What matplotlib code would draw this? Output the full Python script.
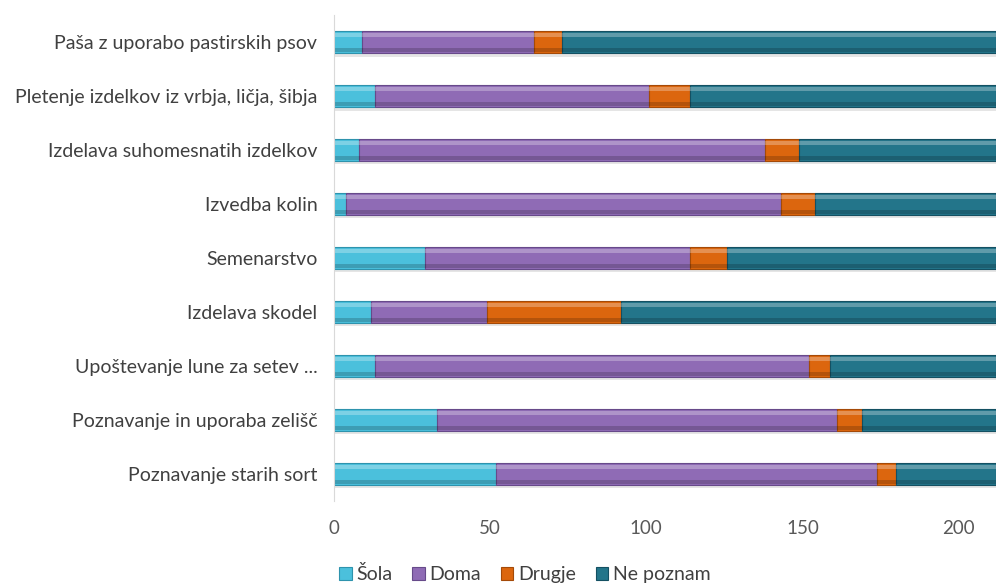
import matplotlib.pyplot as plt
import numpy as np

plt.rcParams['font.family'] = ['Lato', 'DejaVu Sans']

# data (bottom to top)
categories = [
    'Poznavanje starih sort',
    'Poznavanje in uporaba zelišč',
    'Upoštevanje lune za setev ...',
    'Izdelava skodel',
    'Semenarstvo',
    'Izvedba kolin',
    'Izdelava suhomesnatih izdelkov',
    'Pletenje izdelkov iz vrbja, ličja, šibja',
    'Paša z uporabo pastirskih psov',
]
sola = [52, 33, 13, 12, 29, 4, 8, 13, 9]
doma = [122, 128, 139, 37, 85, 139, 130, 88, 55]
drugje = [6, 8, 7, 43, 12, 11, 11, 13, 9]
ne_poznam = [32, 43, 53, 120, 86, 58, 63, 98, 139]

series = [('Šola', sola, '#4bc0dc', '#2e93ad'),
          ('Doma', doma, '#8f6bb5', '#674a8a'),
          ('Drugje', drugje, '#dc660e', '#a44a08'),
          ('Ne poznam', ne_poznam, '#23758a', '#145062')]

fig = plt.figure(figsize=(9.96, 5.86), dpi=100)
ax = fig.add_axes([0.3353, 0.145, 0.6647, 0.829])

y = np.arange(len(categories))
h = 0.41

# soft shadow under each bar
totals = np.array(sola) + np.array(doma) + np.array(drugje) + np.array(ne_poznam)
ax.barh(y - 0.06, totals, height=h, color='#9a9a9a', alpha=0.25, linewidth=0)

left = np.zeros(len(categories))
for name, vals, col, dark in series:
    vals = np.array(vals)
    ax.barh(y, vals, left=left, height=h, color=col, edgecolor=dark,
            linewidth=0.8, label=name)
    # bevel: light band on top, dark band at the bottom
    ax.barh(y + h * 0.33, vals, left=left, height=h * 0.2, color='white',
            alpha=0.28, linewidth=0)
    ax.barh(y - h * 0.36, vals, left=left, height=h * 0.16, color='black',
            alpha=0.18, linewidth=0)
    left += vals

ax.set_xlim(0, left.max())
ax.set_ylim(-0.5, len(categories) - 0.5)
ax.set_yticks(y)
ax.set_yticklabels(categories, fontsize=14, color='#404040')
ax.set_xticks([0, 50, 100, 150, 200])
ax.tick_params(axis='x', labelsize=13.5, colors='#595959', length=0, pad=14)
ax.tick_params(axis='y', length=0, pad=12)
for s in ['top', 'right', 'bottom']:
    ax.spines[s].set_visible(False)
ax.spines['left'].set_color('#d9d9d9')

handles, labels = ax.get_legend_handles_labels()
fig.legend(handles, labels, loc='lower center', ncol=4, frameon=False,
           bbox_to_anchor=(0.527, -0.025), fontsize=14, handlelength=0.65,
           handleheight=0.65, handletextpad=0.25, columnspacing=1.0,
           labelcolor='#404040')

fig.savefig('out.png', dpi=100)
